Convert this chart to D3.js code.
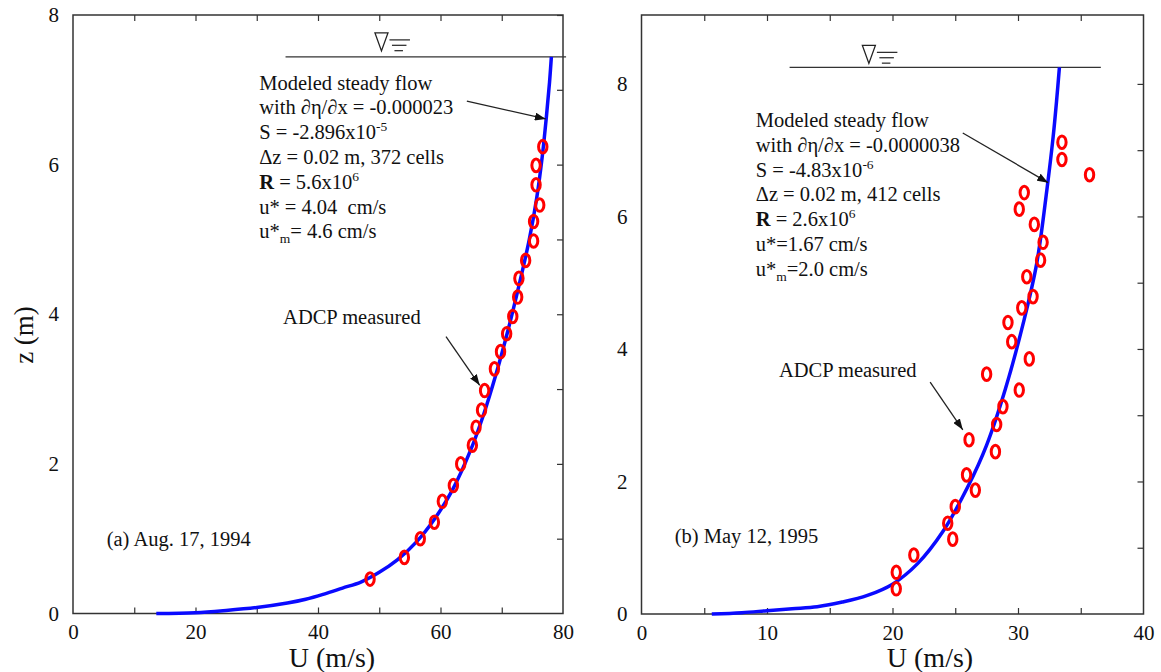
<!DOCTYPE html>
<html>
<head>
<meta charset="utf-8">
<script src="https://cdn.jsdelivr.net/npm/d3@7"></script>
<style>
body { margin: 0; background: #fff; }
svg text { font-family: "Liberation Serif", "Times New Roman", serif; fill: #111; }
</style>
</head>
<body>
<svg id="chart" width="1161" height="672"></svg>
<script>
// (a) Aug. 17, 1994 -- modeled profile and ADCP points
const aCurveU = [13.6, 20, 25, 30, 35, 38, 41, 44, 47, 50, 53, 56, 59, 62, 65, 67, 69, 71, 73, 74.5, 75.7, 76.6, 77.3, 77.8, 78.1];
const aCurveZ = [0, 0.01, 0.04, 0.08, 0.14, 0.19, 0.26, 0.34, 0.42, 0.55, 0.72, 0.95, 1.26, 1.66, 2.2, 2.65, 3.18, 3.78, 4.45, 5.0, 5.55, 6.1, 6.65, 7.1, 7.44];
const aObsU = [48.5, 54.1, 56.7, 59.0, 60.3, 62.1, 63.3, 65.2, 65.8, 66.7, 67.2, 68.8, 69.8, 70.8, 71.8, 72.6, 72.8, 73.9, 75.2, 75.2, 76.2, 75.6, 75.6, 76.7];
const aObsZ = [0.46, 0.75, 1.0, 1.22, 1.50, 1.71, 2.0, 2.25, 2.49, 2.72, 2.98, 3.27, 3.50, 3.74, 3.97, 4.23, 4.48, 4.72, 4.98, 5.24, 5.46, 5.73, 5.99, 6.24];

// (b) May 12, 1995
const bCurveU = [5.6, 8, 10, 12, 14, 16, 18, 20, 22, 24, 26, 27.5, 29, 30.5, 31.5, 32.3, 32.8, 33.1, 33.3];
const bCurveZ = [0, 0.02, 0.05, 0.08, 0.11, 0.18, 0.28, 0.45, 0.76, 1.24, 1.92, 2.55, 3.4, 4.45, 5.3, 6.4, 7.2, 7.8, 8.25];
const bObsU = [20.3, 20.3, 21.7, 24.8, 24.4, 25.0, 26.6, 25.9, 26.1, 28.2, 28.3, 28.8, 30.1, 27.5, 30.9, 29.5, 29.2, 30.3, 31.2, 30.7, 31.8, 32.0, 31.3, 30.1, 30.5, 33.5, 33.5, 35.7];
const bObsZ = [0.38, 0.63, 0.89, 1.13, 1.37, 1.62, 1.87, 2.10, 2.63, 2.45, 2.86, 3.13, 3.38, 3.62, 3.85, 4.11, 4.40, 4.62, 4.79, 5.09, 5.34, 5.61, 5.88, 6.11, 6.36, 6.86, 7.12, 6.63];

// tick values
const aXLabels = [0, 20, 40, 60, 80];
const aXTicks = [10, 20, 30, 40, 50, 60, 70];
const bXLabels = [0, 10, 20, 30, 40];
const bXTicks = [5, 10, 15, 20, 25, 30, 35];
const yLabels = [0, 2, 4, 6, 8];
const yTicks = [1, 2, 3, 4, 5, 6, 7, 8];

// annotation text (parts: [text, style])
const aNotes = [
  [["Modeled steady flow"]],
  [["with \u2202\u03b7/\u2202x = -0.000023"]],
  [["S = -2.896x10"], ["-5", "sup"]],
  [["\u0394z = 0.02 m, 372 cells"]],
  [["R", "b"], [" = 5.6x10"], ["6", "sup"]],
  [["u* = 4.04  cm/s"]],
  [["u*"], ["m", "sub"], ["= 4.6 cm/s"]]
];
const bNotes = [
  [["Modeled steady flow"]],
  [["with \u2202\u03b7/\u2202x = -0.0000038"]],
  [["S = -4.83x10"], ["-6", "sup"]],
  [["\u0394z = 0.02 m, 412 cells"]],
  [["R", "b"], [" = 2.6x10"], ["6", "sup"]],
  [["u*=1.67 cm/s"]],
  [["u*"], ["m", "sub"], ["=2.0 cm/s"]]
];

const svg = d3.select("#chart");

svg.append("defs").append("marker")
    .attr("id", "arrow")
    .attr("markerUnits", "userSpaceOnUse")
    .attr("markerWidth", 11).attr("markerHeight", 8)
    .attr("refX", 11).attr("refY", 4)
    .attr("orient", "auto")
  .append("path")
    .attr("d", "M0,0 L11,4 L0,8 Z")
    .attr("fill", "#111");

function drawPanel(p) {
    const x = d3.scaleLinear().domain(p.xDomain).range([p.left, p.right]);
    const y = d3.scaleLinear().domain(p.yDomain).range([p.bottom, p.top]);
    const g = svg.append("g");

    // frame
    g.append("rect")
        .attr("x", p.left).attr("y", p.top)
        .attr("width", p.right - p.left).attr("height", p.bottom - p.top)
        .attr("fill", "none").attr("stroke", "#333").attr("stroke-width", 1.5);

    // inner ticks on bottom, top and right side
    const tickStyle = sel => {
        sel.select(".domain").remove();
        sel.selectAll("line").attr("stroke", "#333").attr("stroke-width", 1.2);
        sel.selectAll("text").remove();
    };
    g.append("g").attr("transform", `translate(0,${p.bottom})`)
        .call(d3.axisTop(x).tickValues(p.xTicks).tickSize(6)).call(tickStyle);
    g.append("g").attr("transform", `translate(0,${p.top})`)
        .call(d3.axisBottom(x).tickValues(p.xTicks).tickSize(6)).call(tickStyle);
    g.append("g").attr("transform", `translate(${p.right},0)`)
        .call(d3.axisLeft(y).tickValues(yTicks).tickSize(6)).call(tickStyle);

    // tick labels
    const labelStyle = sel => {
        sel.select(".domain").remove();
        sel.selectAll("line").remove();
        sel.selectAll("text").attr("font-size", 21).attr("fill", "#222")
            .attr("font-family", "Liberation Serif, serif");
    };
    g.append("g").attr("transform", `translate(0,${p.bottom})`)
        .call(d3.axisBottom(x).tickValues(p.xLabels).tickSize(0).tickPadding(11).tickFormat(d3.format("d")))
        .call(labelStyle);
    g.append("g").attr("transform", `translate(${p.left},0)`)
        .call(d3.axisLeft(y).tickValues(yLabels).tickSize(0).tickPadding(14).tickFormat(d3.format("d")))
        .call(labelStyle);

    // x axis title
    g.append("text")
        .attr("x", p.xTitleX).attr("y", 667)
        .attr("text-anchor", "middle").attr("font-size", 28)
        .text("U (m/s)");

    // water surface
    const wy = y(p.surface.z);
    g.append("line")
        .attr("x1", x(p.surface.u0)).attr("x2", x(p.surface.u1))
        .attr("y1", wy).attr("y2", wy)
        .attr("stroke", "#333").attr("stroke-width", 1.3);
    const nx = x(p.surface.nabla);
    const ny = wy - p.surface.gap;
    g.append("path")
        .attr("d", `M${nx},${ny} L${nx + 13},${ny} L${nx + 6.5},${ny + 18} Z`)
        .attr("fill", "none").attr("stroke", "#222").attr("stroke-width", 1.3);
    [[14, 21, 0], [17, 15, 5], [20, 9, 10]].forEach(([dy, len, off]) => {
        g.append("line")
            .attr("x1", nx + 14 + off / 2 + 0.5).attr("x2", nx + 14 + off / 2 + len)
            .attr("y1", ny + dy - 7 + (dy - 14) * 0.8).attr("y2", ny + dy - 7 + (dy - 14) * 0.8)
            .attr("stroke", "#222").attr("stroke-width", 1.2);
    });

    // modeled profile
    const pts = p.curveU.map((u, i) => [u, p.curveZ[i]]);
    g.append("path")
        .datum(pts)
        .attr("fill", "none")
        .attr("stroke", "#0a0aff")
        .attr("stroke-width", 3.5)
        .attr("d", d3.line().x(d => x(d[0])).y(d => y(d[1])).curve(d3.curveCatmullRom));

    // ADCP points
    const obs = p.obsU.map((u, i) => [u, p.obsZ[i]]);
    g.selectAll(".obs").data(obs).enter()
        .append("ellipse")
        .attr("class", "obs")
        .attr("cx", d => x(d[0]))
        .attr("cy", d => y(d[1]))
        .attr("rx", 4.2).attr("ry", 6.3)
        .attr("fill", "none").attr("stroke", "#ff0000").attr("stroke-width", 3);

    // annotation block
    p.notes.forEach((parts, i) => {
        const t = g.append("text")
            .attr("x", x(p.noteAt[0]))
            .attr("y", p.noteY + i * 24.8)
            .attr("font-size", 20.5)
            .style("white-space", "pre");
        let shift = 0;
        parts.forEach(([s, kind]) => {
            const want = kind === "sup" ? -8 : kind === "sub" ? 5 : 0;
            const span = t.append("tspan").text(s).attr("dy", want - shift);
            shift = want;
            if (kind === "sup" || kind === "sub") span.attr("font-size", 13.5);
            if (kind === "b") span.attr("font-weight", "bold");
        });
    });

    g.append("text")
        .attr("x", x(p.adcpAt[0])).attr("y", y(p.adcpAt[1]))
        .attr("font-size", 20.5)
        .text("ADCP measured");

    g.append("text")
        .attr("x", x(p.dateAt[0])).attr("y", y(p.dateAt[1]))
        .attr("font-size", 20.5)
        .text(p.date);

    // arrows
    p.arrows.forEach(a => {
        g.append("line")
            .attr("x1", x(a[0])).attr("y1", y(a[1]))
            .attr("x2", x(a[2])).attr("y2", y(a[3]))
            .attr("stroke", "#222").attr("stroke-width", 1.3)
            .attr("marker-end", "url(#arrow)");
    });
}

drawPanel({
    left: 73, right: 563, top: 15, bottom: 613.5,
    xDomain: [0, 80], yDomain: [0, 8],
    xLabels: aXLabels, xTicks: aXTicks,
    curveU: aCurveU, curveZ: aCurveZ, obsU: aObsU, obsZ: aObsZ,
    surface: { u0: 34.7, u1: 80.5, z: 7.44, nabla: 49.3, gap: 24 },
    notes: aNotes, noteAt: [30.4], noteY: 89.5,
    adcpAt: [34.3, 3.87], dateAt: [5.5, 0.9],
    date: "(a) Aug. 17, 1994",
    xTitleX: 332,
    arrows: [[64.3, 6.85, 77.2, 6.61], [60.9, 3.70, 66.4, 3.05]]
});

drawPanel({
    left: 641.5, right: 1143.5, top: 15, bottom: 614,
    xDomain: [0, 40], yDomain: [0, 9.04],
    xLabels: bXLabels, xTicks: bXTicks,
    curveU: bCurveU, curveZ: bCurveZ, obsU: bObsU, obsZ: bObsZ,
    surface: { u0: 11.8, u1: 36.6, z: 8.25, nabla: 17.6, gap: 22 },
    notes: bNotes, noteAt: [9.1], noteY: 127,
    adcpAt: [10.95, 3.58], dateAt: [2.65, 1.07],
    date: "(b) May 12, 1995",
    xTitleX: 930,
    arrows: [[25.6, 7.26, 32.4, 6.51], [23.0, 3.50, 25.6, 2.78]]
});

// y axis title (left panel only)
svg.append("text")
    .attr("transform", "translate(33,335) rotate(-90)")
    .attr("text-anchor", "middle")
    .attr("font-size", 27)
    .text("z (m)");
</script>
</body>
</html>
